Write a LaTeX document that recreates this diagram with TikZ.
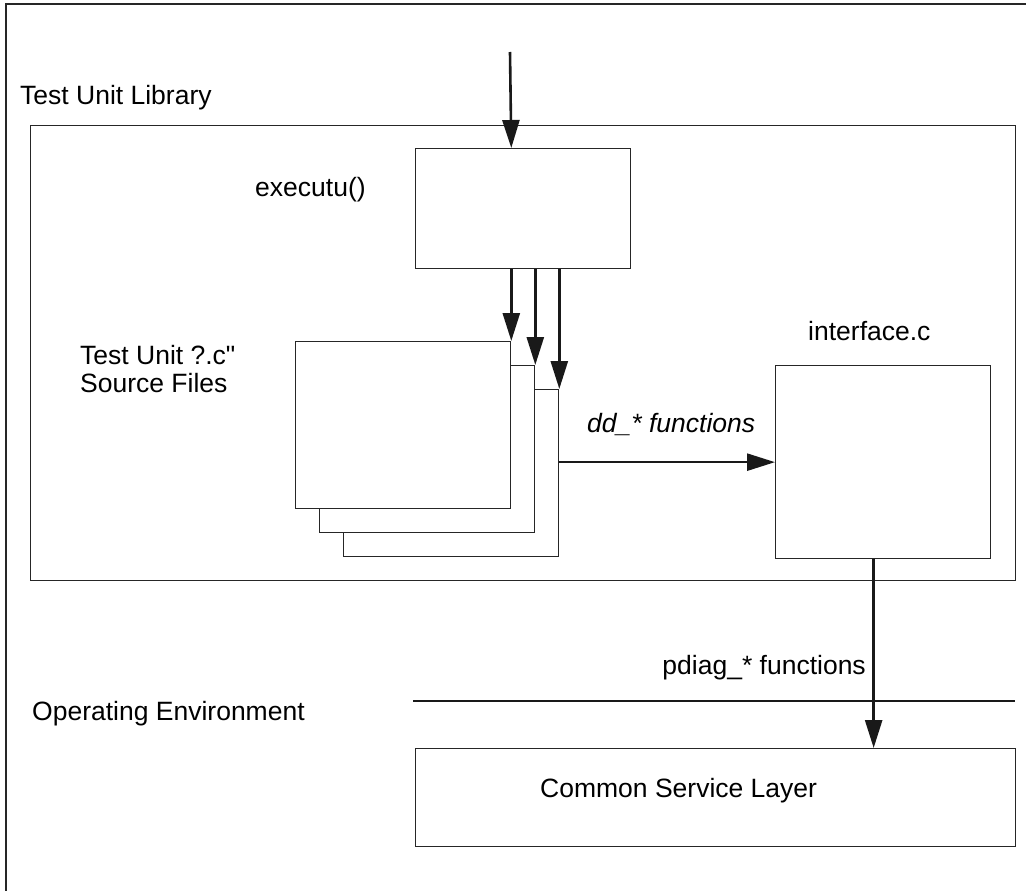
\documentclass[tikz,border=0pt]{standalone}
\usepackage{fontspec}
\setmainfont{Liberation Sans}
\usetikzlibrary{arrows.meta,positioning}

\begin{document}
\begin{tikzpicture}[x=1pt,y=-1pt,
      every node/.style={font=\fontsize{26.5}{28}\selectfont},
      box/.style={draw=black!85,line width=1.3pt,fill=white,inner sep=0pt,anchor=north west},
      flow/.style={draw=black!90,line width=2.6pt,-{Triangle[length=28pt,width=17pt]}},
      lbl/.style={anchor=base west,inner sep=0pt}]
    \useasboundingbox (0,0) rectangle (1026,891);
    \clip (0,0) rectangle (1026,891);
    \draw[line width=1.3pt,black!85] (6,4) rectangle (1040,905);
    \node[lbl] (liblabel) at (20,104) {Test Unit Library};
    \node[box,minimum width=985pt,minimum height=455pt] (lib) at (30,125) {};
    % executu
    \node[box,minimum width=215pt,minimum height=120pt] (exec) at (415,148) {};
    \node[lbl] (execlabel) at (255,196) {executu()};
    % source files
    \node[box,minimum width=215pt,minimum height=167pt] (back) at (343,389) {};
    \node[box,minimum width=215pt,minimum height=167pt] (middle) at (319,365) {};
    \node[box,minimum width=215pt,minimum height=167pt] (front) at (295,341) {};
    \node[lbl,align=left] (srclabel) at (80,392) {Test Unit ?.c\textquotedbl\\Source Files};
    % interface
    \node[box,minimum width=215pt,minimum height=193pt] (iface) at (775,365) {};
    \node[lbl] (ifacelabel) at (808,340) {interface.c};
    % common service layer
    \node[box,minimum width=600pt,minimum height=98pt] (csl) at (415,748) {};
    \node[lbl] (csllabel) at (540,797) {Common Service Layer};
    \node[lbl] (oplabel) at (32,720) {Operating Environment};
    \draw[line width=2pt,black!90] (413,701) -- (1015,701);
    % arrows
    \coordinate (entry) at (510,52);
    \draw[flow] (entry) -- (front.north east |- exec.north);
    \draw[flow] (front.north east |- exec.south) -- (front.north east);
    \draw[flow] (middle.north east |- exec.south) -- (middle.north east);
    \draw[flow] (back.north east |- exec.south) -- (back.north east);
    \draw[flow] (back.east |- iface.west) -- (iface.west);
    \node[lbl,font=\fontsize{26.5}{28}\selectfont\itshape] (ddlabel) at (587,432) {dd\_* functions};
    \coordinate (down) at ([xshift=-9.5pt]iface.south);
    \draw[flow] (down) -- (down |- csl.north);
    \node[lbl,anchor=base east] (pdlabel) at (866,674) {pdiag\_* functions};
\end{tikzpicture}
\end{document}
